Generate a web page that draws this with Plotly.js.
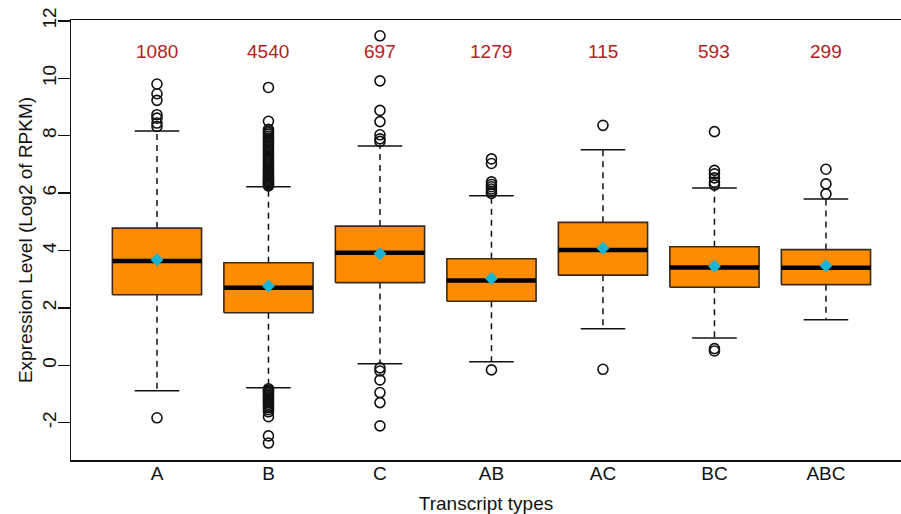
<!DOCTYPE html>
<html>
<head>
<meta charset="utf-8">
<script src="https://cdn.plot.ly/plotly-3.0.1.min.js"></script>
<style>html,body{margin:0;padding:0;background:#fff;}#chart{width:901px;height:514px;}</style>
</head>
<body>
<div id="chart"></div>
<script>
// ---- data ----
var categories = ["A", "B", "C", "AB", "AC", "BC", "ABC"];
var counts = [1080, 4540, 697, 1279, 115, 593, 299];
var q1 = [2.46, 1.83, 2.88, 2.23, 3.14, 2.72, 2.81];
var medians = [3.63, 2.70, 3.92, 2.95, 4.02, 3.41, 3.40];
var q3 = [4.78, 3.57, 4.85, 3.71, 4.98, 4.13, 4.03];
var lowerWhisker = [-0.89, -0.78, 0.05, 0.12, 1.27, 0.95, 1.59];
var upperWhisker = [8.16, 6.22, 7.64, 5.91, 7.51, 6.18, 5.79];
var means = [3.68, 2.76, 3.89, 3.02, 4.08, 3.45, 3.47];

var outA = [9.80, 9.46, 9.23, 8.73, 8.61, 8.44, 8.32, -1.83];
var outB = [9.68, 8.50, 8.22, 8.15, 8.10, 8.05, 7.98, 7.92, 7.85, 7.80, 7.74, 7.68, 7.62, 7.55,
            7.48, 7.42, 7.35, 7.30, 7.24, 7.18, 7.12, 7.06, 7.00, 6.95, 6.90, 6.85, 6.80, 6.75,
            6.70, 6.65, 6.60, 6.56, 6.52, 6.48, 6.44, 6.40, 6.37, 6.34, 6.31, 6.28, 6.25,
            -0.82, -0.86, -0.90, -0.95, -1.00, -1.05, -1.10, -1.15, -1.20, -1.25, -1.30,
            -1.36, -1.42, -1.48, -1.55, -1.62, -1.79, -2.46, -2.71];
var outC = [11.48, 9.91, 8.88, 8.49, 8.03, 7.89, 7.80, -0.09, -0.20, -0.51, -0.95, -1.30, -2.11];
var outAB = [7.19, 7.03, 6.39, 6.30, 6.22, 6.14, 6.06, 5.99, -0.16];
var outAC = [8.36, -0.14];
var outBC = [8.14, 6.79, 6.67, 6.53, 6.38, 6.28, 0.58, 0.50];
var outABC = [6.83, 6.32, 5.97];
var outliers = [outA, outB, outC, outAB, outAC, outBC, outABC];

var yTickVals = [-2, 0, 2, 4, 6, 8, 10, 12];
var yTickText = ["-2", "0", "2", "4", "6", "8", "10", "12"];

// ---- build traces ----
var boxHalf = 0.4, capHalf = 0.2;
var traces = [];
var pos = categories.map(function (c, i) { return i + 1; });

// dashed whiskers
var wx = [], wy = [];
pos.forEach(function (p, i) {
  wx.push(p, p, null, p, p, null);
  wy.push(q3[i], upperWhisker[i], null, q1[i], lowerWhisker[i], null);
});
traces.push({x: wx, y: wy, mode: "lines", type: "scatter", hoverinfo: "skip",
  line: {color: "#111", width: 1.5, dash: "6px,5px"}});

// whisker caps
var cx = [], cy = [];
pos.forEach(function (p, i) {
  cx.push(p - capHalf, p + capHalf, null, p - capHalf, p + capHalf, null);
  cy.push(upperWhisker[i], upperWhisker[i], null, lowerWhisker[i], lowerWhisker[i], null);
});
traces.push({x: cx, y: cy, mode: "lines", type: "scatter", hoverinfo: "skip",
  line: {color: "#111", width: 1.5}});

// boxes
pos.forEach(function (p, i) {
  traces.push({
    x: [p - boxHalf, p + boxHalf, p + boxHalf, p - boxHalf, p - boxHalf],
    y: [q1[i], q1[i], q3[i], q3[i], q1[i]],
    mode: "lines", type: "scatter", fill: "toself", fillcolor: "#FF8C00",
    line: {color: "#3a2a1a", width: 1.6}, hoverinfo: "skip"
  });
});

// medians
var mx = [], my = [];
pos.forEach(function (p, i) {
  mx.push(p - boxHalf, p + boxHalf, null);
  my.push(medians[i], medians[i], null);
});
traces.push({x: mx, y: my, mode: "lines", type: "scatter", hoverinfo: "skip",
  line: {color: "#000", width: 4.5}});

// outliers
var ox = [], oy = [];
outliers.forEach(function (arr, i) {
  arr.forEach(function (v) { ox.push(pos[i]); oy.push(v); });
});
traces.push({x: ox, y: oy, mode: "markers", type: "scatter",
  marker: {symbol: "circle-open", size: 10, color: "#111", line: {width: 1.6, color: "#111"}}});

// means
traces.push({x: pos, y: means, mode: "markers", type: "scatter",
  marker: {symbol: "diamond", size: 10, color: "#19B3D3"}});

var annotations = pos.map(function (p, i) {
  return {x: p, y: 10.92, xref: "x", yref: "y", text: String(counts[i]), showarrow: false,
    font: {family: "Liberation Sans, Arial, sans-serif", size: 19, color: "#B22222"}};
});

var layout = {
  width: 901, height: 514,
  margin: {l: 71, r: 0, t: 20, b: 54, pad: 0},
  paper_bgcolor: "#fff", plot_bgcolor: "#fff",
  showlegend: false,
  font: {family: "Liberation Sans, Arial, sans-serif", size: 19, color: "#111"},
  xaxis: {
    range: [0.229, 7.673], tickvals: pos, ticktext: categories,
    showgrid: false, zeroline: false, showline: true, mirror: true,
    linecolor: "#111", linewidth: 1.5, ticks: "", ticklen: 0,
    tickfont: {size: 19}, ticklabelstandoff: -4,
    title: {text: "Transcript types", font: {size: 19}, standoff: 17}
  },
  yaxis: {
    range: [-3.3, 12.03], tickvals: yTickVals, ticktext: yTickText,
    showgrid: false, zeroline: false, showline: true, mirror: false,
    linecolor: "#111", linewidth: 1.5, ticks: "outside", ticklen: 12, tickwidth: 1.5, tickcolor: "#111",
    tickangle: -90, tickfont: {size: 19}, ticklabelstandoff: -6,
    title: {text: "Expression Level (Log2 of RPKM)", font: {size: 19}, standoff: 1}
  },
  annotations: annotations
};

Plotly.newPlot("chart", traces, layout, {staticPlot: true, displayModeBar: false});
</script>
</body>
</html>
